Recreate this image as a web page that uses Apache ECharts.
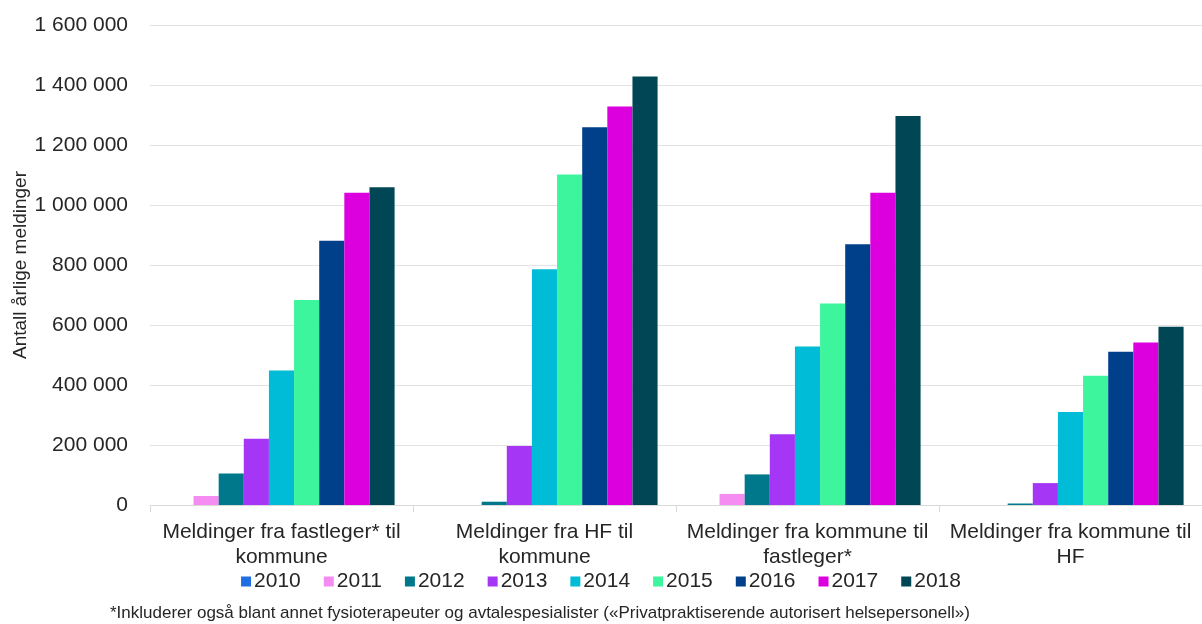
<!DOCTYPE html>
<html>
<head>
<meta charset="utf-8">
<script src="https://cdn.jsdelivr.net/npm/echarts@6/dist/echarts.min.js"></script>
<style>
  html, body { margin: 0; padding: 0; background: #fff; }
  #chart { width: 1202px; height: 624px; }
</style>
</head>
<body>
<div id="chart"></div>
<script>
// kategorier (meldingsretning)
const categories = [
  'Meldinger fra fastleger* til\nkommune',
  'Meldinger fra HF til\nkommune',
  'Meldinger fra kommune til\nfastleger*',
  'Meldinger fra kommune til\nHF'
]
const years = ['2010', '2011', '2012', '2013', '2014', '2015', '2016', '2017', '2018']

// antall meldinger per år, en verdi per kategori
const v2010 = [0, 0, 0, 0]
const v2011 = [30000, 0, 37000, 0]
const v2012 = [105000, 11000, 102000, 5000]
const v2013 = [221000, 197000, 236000, 73000]
const v2014 = [448000, 786000, 528000, 310000]
const v2015 = [683000, 1102000, 672000, 431000]
const v2016 = [881000, 1259000, 869000, 511000]
const v2017 = [1041000, 1328000, 1041000, 542000]
const v2018 = [1059000, 1428000, 1297000, 594000]

const yTicks = [0, 200000, 400000, 600000, 800000, 1000000, 1200000, 1400000, 1600000]
const footnote = '*Inkluderer også blant annet fysioterapeuter og avtalespesialister («Privatpraktiserende autorisert helsepersonell»)'

const values = [v2010, v2011, v2012, v2013, v2014, v2015, v2016, v2017, v2018]
const colors = ['#1d6fe3', '#f58cf2', '#00788c', '#a636f5', '#00bcd6', '#3df59d', '#003f8a', '#dc00df', '#004655']

const chart = echarts.init(document.getElementById('chart'))

chart.setOption({
  animation: false,
  textStyle: { fontFamily: 'Liberation Sans, Arial, sans-serif' },
  color: colors,
  grid: {
    left: 150,
    right: 0,
    top: 25,
    bottom: 119,
    outerBoundsMode: 'none',
    containLabel: false
  },
  legend: {
    bottom: 27,
    left: 'center',
    icon: 'rect',
    itemWidth: 10,
    itemHeight: 10,
    itemGap: 23,
    textStyle: { fontSize: 21, color: '#262626', padding: [0, 0, 0, -2] },
    data: years
  },
  graphic: [
    {
      type: 'text',
      left: 110,
      top: 605,
      style: {
        text: footnote,
        font: '17px "Liberation Sans", Arial, sans-serif',
        fill: '#262626'
      }
    }
  ],
  xAxis: {
    type: 'category',
    data: categories,
    axisLine: { lineStyle: { color: '#d9d9d9' } },
    axisTick: { show: true, length: 7, lineStyle: { color: '#d9d9d9' } },
    axisLabel: {
      fontSize: 21,
      color: '#262626',
      lineHeight: 25,
      margin: 15,
      interval: 0
    }
  },
  yAxis: {
    type: 'value',
    min: 0,
    max: 1600000,
    interval: 200000,
    name: 'Antall årlige meldinger',
    nameLocation: 'middle',
    nameRotate: 90,
    nameGap: 120,
    nameMoveOverlap: false,
    nameTextStyle: { fontSize: 19, color: '#262626' },
    axisLine: { show: false },
    axisTick: { show: false },
    splitLine: { lineStyle: { color: '#e3e3e3' } },
    axisLabel: {
      fontSize: 21,
      color: '#262626',
      margin: 22,
      formatter: function (v) {
        if (yTicks.indexOf(v) < 0) return ''
        return String(v).replace(/\B(?=(\d{3})+(?!\d))/g, ' ')
      }
    }
  },
  series: years.map(function (y, i) {
    return {
      name: y,
      type: 'bar',
      barGap: '0%',
      barCategoryGap: '14%',
      data: values[i]
    }
  })
})
</script>
</body>
</html>
